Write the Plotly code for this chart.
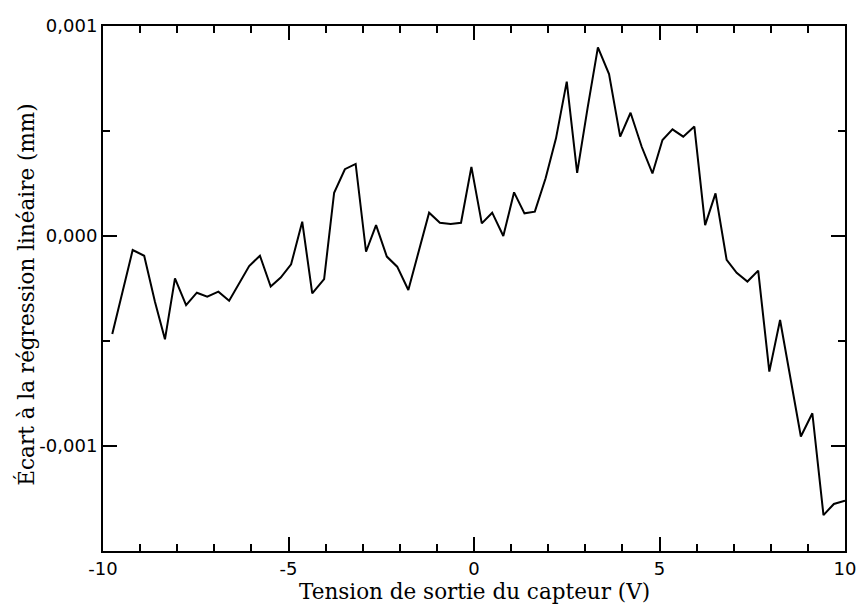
import plotly.graph_objects as go

tension_v = [
    -9.75, -9.51, -9.20, -8.89, -8.60, -8.33, -8.06, -7.76, -7.47, -7.19,
    -6.89, -6.60, -6.33, -6.06, -5.77, -5.48, -5.21, -4.93, -4.63, -4.36,
    -4.04, -3.77, -3.48, -3.19, -2.91, -2.64, -2.35, -2.07, -1.77, -1.50,
    -1.21, -0.92, -0.63, -0.35, -0.07, 0.21, 0.49, 0.79, 1.08, 1.36,
    1.64, 1.93, 2.21, 2.50, 2.78, 3.06, 3.34, 3.64, 3.94, 4.22,
    4.52, 4.81, 5.08, 5.35, 5.64, 5.94, 6.23, 6.51, 6.81, 7.08,
    7.37, 7.66, 7.96, 8.25, 8.54, 8.81, 9.12, 9.42, 9.70, 10.00,
]
ecart_mm = [
    -0.000467, -0.000297, -0.000067, -0.000094, -0.000313, -0.000492, -0.000202, -0.000329, -0.000270, -0.000289,
    -0.000265, -0.000308, -0.000225, -0.000143, -0.000094, -0.000241, -0.000198, -0.000135, 0.000068, -0.000273,
    -0.000205, 0.000206, 0.000318, 0.000343, -0.000075, 0.000052, -0.000098, -0.000146, -0.000257, -0.000080,
    0.000111, 0.000063, 0.000057, 0.000063, 0.000329, 0.000060, 0.000111, 0.000000, 0.000208, 0.000108,
    0.000116, 0.000275, 0.000465, 0.000735, 0.000301, 0.000608, 0.000898, 0.000771, 0.000473, 0.000587,
    0.000425, 0.000298, 0.000457, 0.000508, 0.000473, 0.000521, 0.000052, 0.000203, -0.000114, -0.000175,
    -0.000217, -0.000165, -0.000646, -0.000400, -0.000678, -0.000955, -0.000844, -0.001329, -0.001276, -0.001260,
]

x_tickvals = [-10, -5, 0, 5, 10]
x_ticktext = ["-10", "-5", "0", "5", "10"]
y_tickvals = [-0.001, 0.0, 0.001]
y_ticktext = ["-0,001", "0,000", "0,001"]

x_title = "Tension de sortie du capteur (V)"
y_title = "Écart à la régression linéaire (mm)"

title_font = dict(family="DejaVu Serif, Liberation Serif, serif", size=21.5, color="black")
tick_font = dict(family="DejaVu Sans, Liberation Sans, sans-serif", size=18, color="black")

fig = go.Figure()
fig.add_trace(go.Scatter(
    x=tension_v, y=ecart_mm, mode="lines",
    line=dict(color="black", width=2),
    showlegend=False,
))

axis_common = dict(
    showgrid=False, zeroline=False, automargin=False,
    showline=True, linecolor="black", linewidth=2,
    mirror="allticks",
    ticks="inside", ticklen=14, tickwidth=2, tickcolor="black",
    tickfont=tick_font,
)

fig.update_xaxes(
    range=[-10, 10],
    tickvals=x_tickvals, ticktext=x_ticktext,
    minor=dict(dtick=1, ticks="inside", ticklen=7, tickwidth=2, tickcolor="black"),
    **axis_common,
)
fig.update_yaxes(
    range=[-0.0015, 0.001],
    tickvals=y_tickvals, ticktext=y_ticktext,
    minor=dict(dtick=0.0005, tick0=0, ticks="inside", ticklen=7, tickwidth=2, tickcolor="black"),
    **axis_common,
)

fig.add_annotation(
    text=x_title, xref="paper", yref="paper", x=0.5, y=-0.078,
    xanchor="center", yanchor="middle", showarrow=False, font=title_font,
)
fig.add_annotation(
    text=y_title, xref="paper", yref="paper", x=-0.104, y=0.488,
    xanchor="center", yanchor="middle", showarrow=False, textangle=-90, font=title_font,
)

fig.update_layout(
    width=857, height=605,
    margin=dict(l=103, r=12, t=26, b=54),
    plot_bgcolor="white", paper_bgcolor="white",
)

fig.write_html(
    "out.html",
    config={"displayModeBar": False},
    post_script="document.body.style.margin='0px';document.body.style.overflow='hidden';",
)
